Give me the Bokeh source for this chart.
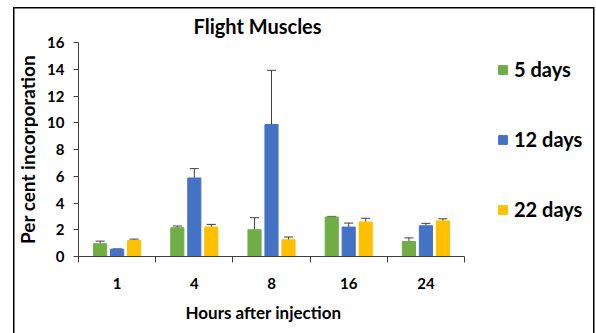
import numpy as np
from bokeh.plotting import figure
from bokeh.models import (ColumnDataSource, Whisker, TeeHead, FixedTicker, Legend,
                          LegendItem, Range1d, Title)
from bokeh.embed import file_html
from bokeh.resources import INLINE

hours = ["1", "4", "8", "16", "24"]
series_names = ["5 days", "12 days", "22 days"]
colors = ["#70AD47", "#4472C4", "#FFC000"]
val_5 = [0.95, 2.15, 2.0, 2.95, 1.12]
err_5 = [0.2, 0.13, 0.9, 0.05, 0.27]
val_12 = [0.55, 5.87, 9.87, 2.2, 2.3]
err_12 = [0.0, 0.7, 4.05, 0.3, 0.18]
val_22 = [1.2, 2.2, 1.25, 2.58, 2.66]
err_22 = [0.1, 0.2, 0.21, 0.28, 0.16]
y_ticks = [0, 2, 4, 6, 8, 10, 12, 14, 16]

FONT = "Lato"
W, H = 596, 333
LEFT, RIGHT_FRAME, AXIS_RIGHT = 78, 590, 464
n = len(hours)
x_end = n * (RIGHT_FRAME - LEFT) / (AXIS_RIGHT - LEFT)

p = figure(width=W, height=H, output_backend="svg", toolbar_location=None,
           x_range=Range1d(0, x_end), y_range=Range1d(0, 16),
           min_border_left=LEFT, min_border_right=W - RIGHT_FRAME, min_border_top=42,
           min_border_bottom=77)
p.outline_line_color = None
p.xgrid.visible = False
p.ygrid.visible = False
p.border_fill_color = None
p.background_fill_color = None
p.styles = {
    "background": ("linear-gradient(#000,#000) 13px 7px / 581px 1.5px no-repeat, "
                   "linear-gradient(#000,#000) 13px 7px / 1.5px 400px no-repeat, "
                   "linear-gradient(#000,#000) 592.5px 7px / 1.5px 400px no-repeat, "
                   "#ffffff")
}

centers = np.arange(n) + 0.5
offsets = [-0.22, 0.0, 0.22]
vals = [val_5, val_12, val_22]
errs = [err_5, err_12, err_22]
items = []
for name, col, off, v, e in zip(series_names, colors, offsets, vals, errs):
    v = np.array(v); e = np.array(e)
    src = ColumnDataSource(dict(x=centers + off, top=v, up=v + e, lo=v - e))
    r = p.vbar(x="x", top="top", width=0.17, source=src, fill_color=col, line_color=col)
    w = Whisker(base="x", upper="up", lower="lo", source=src, line_color="#404040",
                line_width=1,
                upper_head=TeeHead(size=9, line_color="#404040", line_width=1),
                lower_head=TeeHead(size=9, line_color="#404040", line_width=1))
    p.add_layout(w)
    items.append(LegendItem(label=name, renderers=[r]))

legend = Legend(items=items, location=(419, 35), padding=0, margin=0,
                spacing=46, glyph_width=11, glyph_height=11, label_height=22,
                label_standoff=6, border_line_color=None, background_fill_alpha=0,
                label_text_font=FONT, label_text_font_style="bold",
                label_text_font_size="20px", label_text_color="#000000")
p.add_layout(legend, "center")

# axes
ax = p.xaxis[0]
ax.bounds = (0, n)
ax.ticker = FixedTicker(ticks=list(centers), minor_ticks=list(range(n + 1)))
ax.major_label_overrides = {float(c): h for c, h in zip(centers, hours)}
ax.major_tick_out = 0
ax.major_tick_in = 0
ax.minor_tick_out = 6
ax.minor_tick_in = 0
ax.minor_tick_line_color = "#404040"
ax.axis_line_color = "#404040"
ax.major_label_standoff = 15
ax.major_label_text_font = FONT
ax.major_label_text_font_style = "bold"
ax.major_label_text_font_size = "15px"
ax.major_label_text_color = "#000000"

spacer = Title(text=" ", text_font_size="1px", standoff=0)
p.add_layout(spacer, "below")
xlab = Title(text="Hours after injection", align="left", offset=107,
             text_font=FONT, text_font_style="bold", text_font_size="17px",
             text_color="#000000")
p.add_layout(xlab, "below")

ay = p.yaxis[0]
ay.ticker = FixedTicker(ticks=y_ticks)
ay.minor_tick_line_color = None
ay.major_tick_out = 5
ay.major_tick_in = 0
ay.major_tick_line_color = "#404040"
ay.axis_line_color = "#404040"
ay.major_label_standoff = 9
ay.major_label_text_font = FONT
ay.major_label_text_font_style = "bold"
ay.major_label_text_font_size = "15px"
ay.major_label_text_color = "#000000"
ay.axis_label = "Per cent incorporation"
ay.axis_label_text_font = FONT
ay.axis_label_text_font_style = "bold"
ay.axis_label_text_font_size = "19px"
ay.axis_label_text_color = "#000000"
ay.axis_label_standoff = 5

p.title.text = "Flight Muscles"
p.title.text_font = FONT
p.title.text_font_style = "bold"
p.title.text_font_size = "20px"
p.title.align = "left"
p.title.offset = 115
p.title.text_color = "#000000"

open("out.html", "w").write(file_html(p, INLINE))
